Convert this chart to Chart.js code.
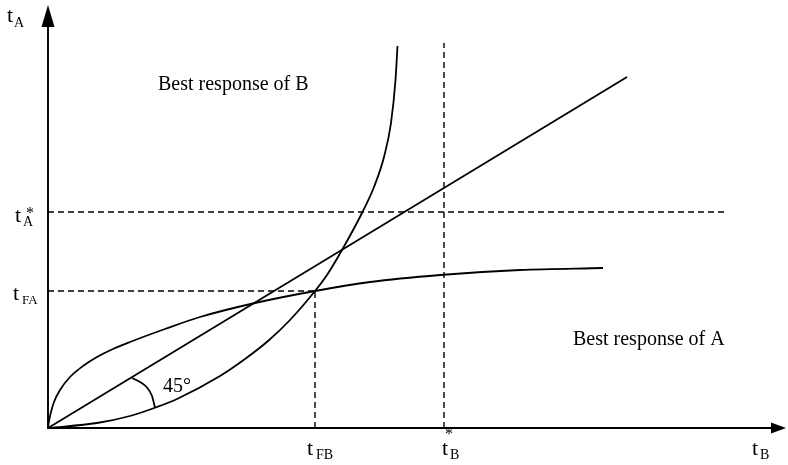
<!DOCTYPE html>
<html>
<head>
<meta charset="utf-8">
<script src="https://cdn.jsdelivr.net/npm/chart.js@4/dist/chart.umd.min.js"></script>
<style>
html,body{margin:0;padding:0;background:#fff;}
#wrap{width:788px;height:465px;}
</style>
</head>
<body>
<div id="wrap"><canvas id="c" width="788" height="465"></canvas></div>
<script>
// ---- data (arbitrary units: tB on x, tA on y) ----
const bestResponseA = [[0,0],[1,7],[3,16],[6,26],[12,38],[22,51],[35,62],[49,71],[65,79],[82,86],[117,99],[152,111],[207,125],[267,137],[322,146],[392,153],[472,158],[555,160]];
const bestResponseB = [[0,0],[49,5],[82,12],[109,21],[129,29],[172,52],[197,69],[220,87],[242,108],[267,137],[279,153],[294,178],[314,215],[326,241],[336,271],[343,305],[347.5,348],[349.5,382]];
const line45 = [[0,0],[579,351]];
const angleArc = [[84,50],[92,46],[99,40.5],[104,32],[107,20.5]];
const tFB = 267, tFA = 137, tBstar = 396, tAstar = 216;
const dashTop = 385, dashRight = 677;
const axisMaxX = 738, axisMaxY = 423;

const toXY = a => a.map(p => ({x:p[0], y:p[1]}));
const black = '#000';
const lw = 1.8;

const curve = (data, extra) => Object.assign({
  data: toXY(data), showLine: true, borderColor: black, borderWidth: lw,
  pointRadius: 0, fill: false, cubicInterpolationMode: 'monotone'
}, extra || {});
const dashed = (data) => curve(data, {borderDash:[6,4], borderWidth:1.4, cubicInterpolationMode:'default', tension:0});

const SERIF = '"Liberation Serif", "Times New Roman", serif';

const decor = {
  id: 'decor',
  afterDatasetsDraw(chart) {
    const ctx = chart.ctx, xs = chart.scales.x, ys = chart.scales.y;
    const X = v => xs.getPixelForValue(v), Y = v => ys.getPixelForValue(v);
    const ox = X(0), oy = Y(0), top = Y(axisMaxY), right = X(axisMaxX);
    ctx.save();
    ctx.strokeStyle = black; ctx.fillStyle = black; ctx.lineWidth = 1.9;
    // axes
    ctx.beginPath(); ctx.moveTo(ox, oy); ctx.lineTo(ox, top + 20); ctx.stroke();
    ctx.beginPath(); ctx.moveTo(ox - 1, oy); ctx.lineTo(right - 14, oy); ctx.stroke();
    // arrowheads
    ctx.beginPath(); ctx.moveTo(ox, top); ctx.lineTo(ox - 6.5, top + 22); ctx.lineTo(ox + 6.5, top + 22); ctx.closePath(); ctx.fill();
    ctx.beginPath(); ctx.moveTo(right, oy); ctx.lineTo(right - 15, oy - 5.5); ctx.lineTo(right - 15, oy + 5.5); ctx.closePath(); ctx.fill();

    const big = '22px ' + SERIF, small = '14px ' + SERIF, star = '16px ' + SERIF, label = '20px ' + SERIF;
    const txt = (s, x, y, f) => { ctx.font = f; ctx.textAlign = 'left'; ctx.textBaseline = 'alphabetic'; ctx.fillText(s, x, y); };
    // axis titles
    txt('t', ox - 41, top + 17, big); txt('A', ox - 34, top + 22, small);
    txt('t', right - 34, oy + 27, big); txt('B', right - 26, oy + 31, small);
    // y tick labels
    txt('t', ox - 33, Y(tAstar) + 10, big); txt('A', ox - 25, Y(tAstar) + 14, small); txt('*', ox - 22, Y(tAstar) + 6, star);
    txt('t', ox - 35, Y(tFA) + 9, big); txt('FA', ox - 26, Y(tFA) + 13, '13px ' + SERIF);
    // x tick labels
    txt('t', X(tFB) - 8, oy + 27, big); txt('FB', X(tFB) + 1, oy + 31, small);
    txt('t', X(tBstar) - 2, oy + 27, big); txt('B', X(tBstar) + 6, oy + 31, small); txt('*', X(tBstar) + 1, oy + 11, star);
    // annotations
    txt('Best response of B', X(110), Y(338), label);
    txt('Best response of A', X(525), Y(83), label);
    txt('45°', X(115), Y(36), label);
    ctx.restore();
  }
};

new Chart(document.getElementById('c'), {
  type: 'scatter',
  data: { datasets: [
    curve(bestResponseA),
    curve(bestResponseB),
    curve(line45, {cubicInterpolationMode:'default', tension:0}),
    curve(angleArc),
    dashed([[0,tAstar],[dashRight,tAstar]]),
    dashed([[0,tFA],[tFB,tFA]]),
    dashed([[tFB,0],[tFB,tFA]]),
    dashed([[tBstar,0],[tBstar,dashTop]])
  ]},
  options: {
    responsive: false, animation: false, devicePixelRatio: 1,
    layout: { padding: { left: 48, right: 2, top: 5, bottom: 37 } },
    scales: {
      x: { type: 'linear', min: 0, max: axisMaxX, display: false },
      y: { type: 'linear', min: 0, max: axisMaxY, display: false }
    },
    plugins: { legend: { display: false }, tooltip: { enabled: false } },
    elements: { line: { borderCapStyle: 'butt' } }
  },
  plugins: [decor]
});
</script>
</body>
</html>
